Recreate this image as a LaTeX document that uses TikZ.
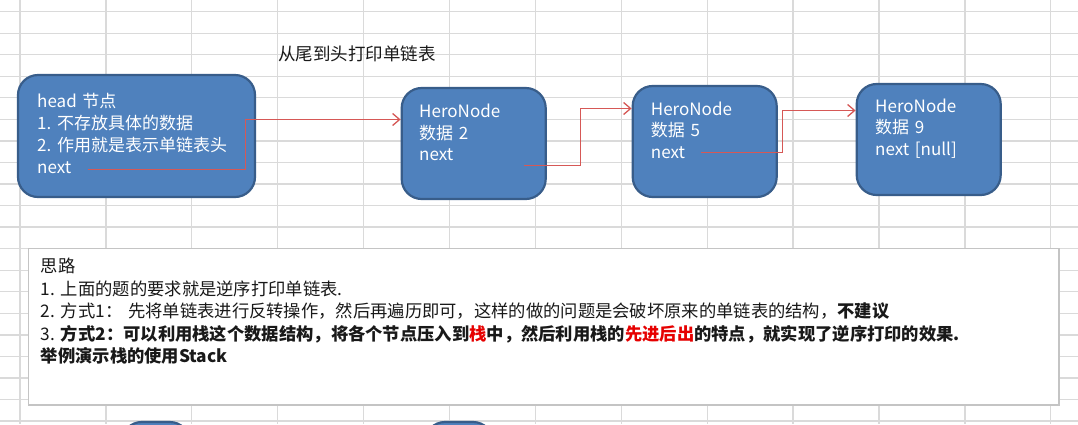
\documentclass[tikz,border=0pt]{standalone}
\usepackage{fontspec}
\setmainfont{Noto Sans CJK SC}
\usetikzlibrary{arrows.meta}
\definecolor{boxfill}{RGB}{79,129,189}
\definecolor{boxline}{RGB}{56,93,138}
\definecolor{arrred}{RGB}{214,88,86}
\definecolor{gridc}{RGB}{218,218,218}
\definecolor{thinkline}{RGB}{196,196,196}
\definecolor{txtc}{RGB}{25,25,25}
\definecolor{hot}{RGB}{230,0,0}
\tikzset{
  hbox/.style={draw=boxline, fill=boxfill, line width=2.2pt, rounded corners=20pt, inner sep=0pt},
  htxt/.style={text=white, anchor=base west, align=left, inner sep=0pt,
    font=\fontsize{17}{22}\selectfont},
  ntxt/.style={text=white, anchor=base west, align=left, inner sep=0pt, text width=130pt,
    font=\fontsize{17}{21.5}\selectfont},
  arr/.style={draw=arrred, line width=1.6pt, -{Straight Barb[length=7pt,width=12pt,line width=1.3pt]}},
  gridline/.style={draw=gridc, line width=1.3pt},
  thinkbox/.style={draw=thinkline, fill=white, line width=1.6pt, inner sep=0pt},
  ttxt/.style={text=txtc, anchor=base west, align=left, inner sep=0pt, text width=1010pt,
    font=\fontsize{17.3}{22.6}\selectfont},
}
\begin{document}
\frenchspacing
\begin{tikzpicture}[x=1pt,y=-1pt]
\useasboundingbox (0,0) rectangle (1078,424);
\clip (0,0) rectangle (1078,424);
\fill[white] (0,0) rectangle (1078,424);
% spreadsheet grid
\foreach \k in {0,...,12} {
  \draw[gridline] ({20+85.9*\k},0) -- ({20+85.9*\k},424);
}
\foreach \k in {0,...,19} {
  \draw[gridline] (0,{11.6+21.55*\k}) -- (1078,{11.6+21.55*\k});
}
% title
\node[anchor=base west, inner sep=0pt, text=txtc, font=\fontsize{17.5}{20}\selectfont] (title) at (278,60) {从尾到头打印单链表};
% boxes
\node[hbox, minimum width=237pt, minimum height=122pt] (head) at (136.5,136) {};
\node[hbox, minimum width=144pt, minimum height=111pt] (b2) at (473.7,143.5) {};
\node[hbox, minimum width=144pt, minimum height=111pt] (b5) at (704.7,141.5) {};
\node[hbox, minimum width=144pt, minimum height=111pt] (b9) at (928.7,139.5) {};
% partial boxes at the bottom edge
\node[hbox, minimum width=68pt, minimum height=60pt] (p1) at (155.8,452) {};
\node[hbox, minimum width=68pt, minimum height=60pt] (p2) at (459,452) {};
% box texts
\node[htxt, text width=220pt] (headtxt) at (37,107) {head 节点\\1. 不存放具体的数据\\2. 作用就是表示单链表头\\next};
\node[ntxt] (b2txt) at (419,117.5) {HeroNode\\数据 2\\next};
\node[ntxt] (b5txt) at (650.7,115) {HeroNode\\数据 5\\next};
\node[ntxt] (b9txt) at (875,112) {HeroNode\\数据 9\\next [null]};
% connectors
\coordinate (hs) at (88,169.5);
\coordinate (hc1) at (245.5,169.5);
\coordinate (hc2) at (245.5,119.5);
\coordinate (s2) at (524,165.5);
\coordinate (s5) at (700.5,152.5);
\coordinate (t2) at (b2.west |- 0,119.5);
\coordinate (t5) at (b5.west |- 0,108.5);
\coordinate (t9) at (b9.west |- 0,110.5);
\draw[arr] (hs) -- (hc1) -- (hc2) -- (t2);
\draw[arr] (s2) -| (580.5,108.5) -- (t5);
\draw[arr] (s5) -| (782.5,110.5) -- (t9);
% explanation box
\node[thinkbox, minimum width=1030.7pt, minimum height=156.7pt] (think) at (543.65,326.65) {};
\node[ttxt] (thinktxt) at (40.6,272.5) {思路\\
1. 上面的题的要求就是逆序打印单链表.\\
2. 方式1：\ 先将单链表进行反转操作，然后再遍历即可，这样的做的问题是会破坏原来的单链表的结构，\textbf{不建议}\\
3. \textbf{方式2：可以利用栈这个数据结构，将各个节点压入到{\color{hot}栈}中，然后利用栈的{\color{hot}先进后出}的特点，就实现了逆序打印的效果.}\\
\textbf{举例演示栈的使用Stack}};
\end{tikzpicture}
\end{document}
